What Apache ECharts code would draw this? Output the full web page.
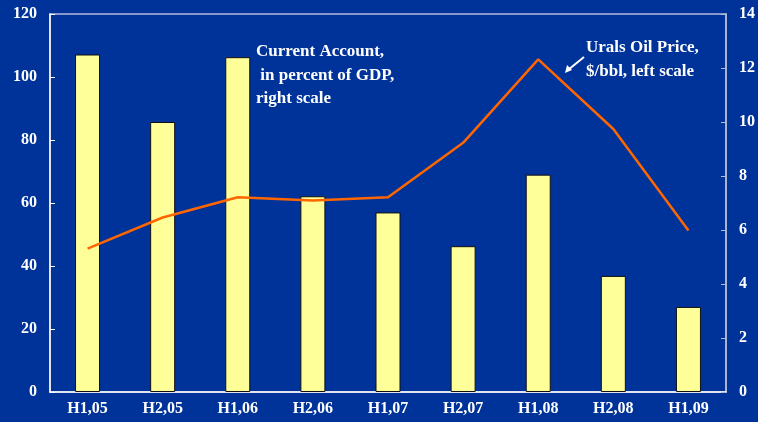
<!DOCTYPE html>
<html>
<head>
<meta charset="utf-8">
<script src="https://cdn.jsdelivr.net/npm/echarts@6/dist/echarts.min.js"></script>
<style>
  html, body { margin: 0; padding: 0; background: #003399; }
  #chart { width: 758px; height: 422px; }
</style>
</head>
<body>
<div id="chart"></div>
<script>
// Half-year periods
const periods = ['H1,05', 'H2,05', 'H1,06', 'H2,06', 'H1,07', 'H2,07', 'H1,08', 'H2,08', 'H1,09'];
// Current account, percent of GDP (right scale)
const currentAccount = [12.5, 10.0, 12.4, 7.25, 6.65, 5.4, 8.05, 4.3, 3.15];
// Urals oil price, $/bbl (left scale)
const uralsPrice = [45.5, 55.4, 61.8, 60.8, 61.8, 79.1, 105.6, 83.5, 51.3];

const serif = "'Liberation Serif', 'Times New Roman', serif";
const white = '#ffffff';
const lightRule = '#b4bcd8';

const chart = echarts.init(document.getElementById('chart'));
chart.setOption({
  backgroundColor: '#003399',
  animation: false,
  grid: {
    left: 50, right: 30, top: 14, bottom: 30,
    show: true, borderColor: lightRule, borderWidth: 1.5, backgroundColor: 'transparent'
  },
  xAxis: {
    type: 'category',
    data: periods,
    axisLine: { lineStyle: { color: white, width: 1.5 } },
    axisTick: { inside: true, length: 5, lineStyle: { color: white } },
    axisLabel: { color: white, fontFamily: serif, fontWeight: 'bold', fontSize: 16, margin: 9 }
  },
  yAxis: [
    {
      type: 'value', min: 0, max: 120, interval: 20, position: 'left',
      splitLine: { show: false },
      axisLine: { show: true, lineStyle: { color: white, width: 1.5 } },
      axisTick: { show: true, inside: true, length: 5, lineStyle: { color: white } },
      axisLabel: { color: white, fontFamily: serif, fontWeight: 'bold', fontSize: 16, margin: 13 }
    },
    {
      type: 'value', min: 0, max: 14, interval: 2, position: 'right',
      splitLine: { show: false },
      axisLine: { show: true, lineStyle: { color: lightRule, width: 1.5 } },
      axisTick: { show: true, inside: true, length: 5, lineStyle: { color: lightRule } },
      axisLabel: { color: white, fontFamily: serif, fontWeight: 'bold', fontSize: 16, margin: 13 }
    }
  ],
  series: [
    {
      name: 'Current Account',
      type: 'bar',
      yAxisIndex: 1,
      data: currentAccount,
      barWidth: 25,
      itemStyle: { color: '#ffff99', borderColor: '#111111', borderWidth: 1 }
    },
    {
      name: 'Urals Oil Price',
      type: 'line',
      yAxisIndex: 0,
      data: uralsPrice,
      symbol: 'none',
      lineStyle: { color: '#ff6600', width: 2.5 }
    }
  ],
  graphic: [
    {
      type: 'text', left: 256, top: 40,
      style: {
        text: 'Current Account,\n in percent of GDP,\nright scale',
        fill: white, font: "bold 17px 'Liberation Serif', serif", lineHeight: 23.5
      }
    },
    {
      type: 'text', left: 586, top: 36,
      style: {
        text: 'Urals Oil Price,\n$/bbl, left scale',
        fill: white, font: "bold 17px 'Liberation Serif', serif", lineHeight: 24
      }
    },
    {
      type: 'line',
      shape: { x1: 584, y1: 57, x2: 568, y2: 70 },
      style: { stroke: white, lineWidth: 2 }
    },
    {
      type: 'polygon',
      shape: { points: [[565, 73], [567, 65], [572, 70]] },
      style: { fill: white }
    }
  ]
});
</script>
</body>
</html>
